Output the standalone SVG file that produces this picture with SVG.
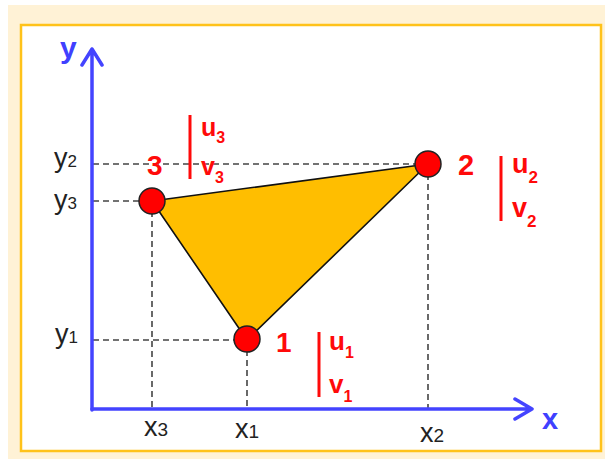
<svg xmlns="http://www.w3.org/2000/svg" width="605" height="459" viewBox="0 0 605 459">
<style>
.dash{stroke:#444;stroke-width:1.6;stroke-dasharray:6 4;fill:none}
.axis{stroke:#4444ff;stroke-width:3.5;fill:none;stroke-linecap:round;stroke-linejoin:round}
.node{fill:#ff0000;stroke:#222;stroke-width:1.5}
.lbl{font-family:"Liberation Sans",Arial,sans-serif;fill:#222}
.red{font-family:"Liberation Sans",Arial,sans-serif;fill:#ff0a0a;font-weight:bold}
.bar{stroke:#ff0a0a;stroke-width:3}
.ax{font-family:"Liberation Sans",Arial,sans-serif;fill:#4040ff;font-weight:bold}
</style>
<rect x="8" y="5" width="597" height="454" fill="#fff2d6"/>
<rect x="21" y="25" width="580" height="426" fill="#ffffff" stroke="#ffc21a" stroke-width="2.5"/>
<g id="guides">
<line class="dash" x1="93" y1="164" x2="428" y2="164"/>
<line class="dash" x1="93" y1="201" x2="152" y2="201"/>
<line class="dash" x1="93" y1="340" x2="247" y2="340"/>
<line class="dash" x1="152" y1="201" x2="152" y2="408"/>
<line class="dash" x1="247" y1="340" x2="247" y2="408"/>
<line class="dash" x1="428" y1="164" x2="428" y2="408"/>
</g>
<g id="axes">
<path class="axis" d="M92 410 V49 M82 65 L92 49 L102 65"/>
<path class="axis" d="M92 409 H532 M515 399 L532 409 L515 419"/>
<text class="ax" x="60" y="58" font-size="30">y</text>
<text class="ax" x="542" y="429" font-size="29">x</text>
</g>
<g id="triangle">
<polygon points="152,201 428,164 247,340" fill="#ffbe00" stroke="#111" stroke-width="1.6" stroke-linejoin="round"/>
</g>
<g id="node3">
<circle class="node" cx="152" cy="201" r="13"/>
<text class="red" x="147" y="175" font-size="28">3</text>
<line class="bar" x1="190" y1="115" x2="190" y2="179"/>
<text class="red" x="201" y="136" font-size="25">u<tspan font-size="16" dy="7">3</tspan></text>
<text class="red" x="201" y="175" font-size="25">v<tspan font-size="16" dy="8">3</tspan></text>
</g>
<g id="node2">
<circle class="node" cx="428" cy="164" r="13"/>
<text class="red" x="458" y="175" font-size="29">2</text>
<line class="bar" x1="501" y1="156" x2="501" y2="221"/>
<text class="red" x="512" y="173" font-size="27">u<tspan font-size="17" dy="10">2</tspan></text>
<text class="red" x="512" y="217" font-size="27">v<tspan font-size="17" dy="10">2</tspan></text>
</g>
<g id="node1">
<circle class="node" cx="247" cy="339" r="13"/>
<text class="red" x="276" y="352" font-size="28">1</text>
<line class="bar" x1="319" y1="332" x2="319" y2="397"/>
<text class="red" x="329" y="350" font-size="26">u<tspan font-size="16" dy="8">1</tspan></text>
<text class="red" x="329" y="393" font-size="26">v<tspan font-size="16" dy="9">1</tspan></text>
</g>
<g id="ticklabels">
<text class="lbl" x="54" y="167" font-size="27">y<tspan font-size="17">2</tspan></text>
<text class="lbl" x="54" y="209" font-size="27">y<tspan font-size="17">3</tspan></text>
<text class="lbl" x="55" y="343" font-size="27">y<tspan font-size="17">1</tspan></text>
<text class="lbl" x="144" y="436" font-size="27">x<tspan font-size="19">3</tspan></text>
<text class="lbl" x="235" y="438" font-size="27">x<tspan font-size="19">1</tspan></text>
<text class="lbl" x="420" y="442" font-size="27">x<tspan font-size="19">2</tspan></text>
</g>
</svg>
